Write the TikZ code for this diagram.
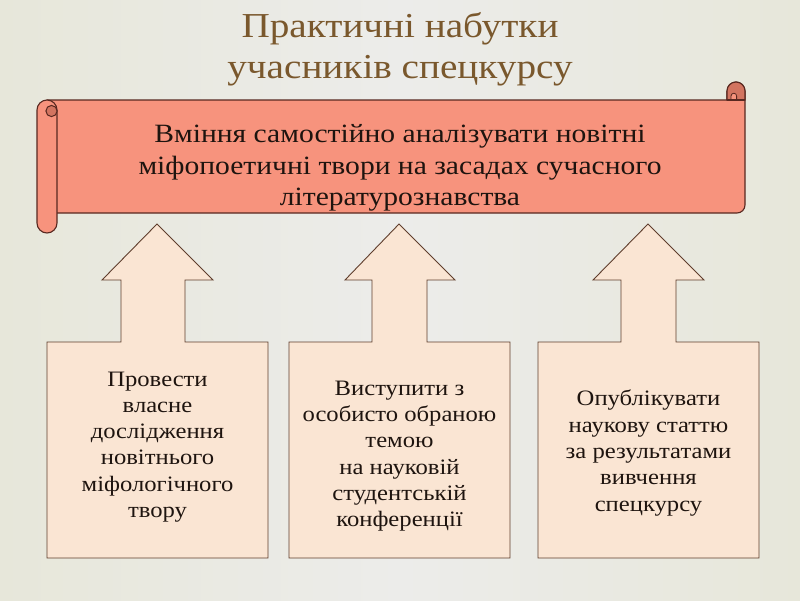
\documentclass[tikz,border=0pt]{standalone}
\usepackage{fontspec}
\setmainfont[FakeStretch=1.12]{Liberation Serif}
\begin{document}
\begin{tikzpicture}[x=1pt,y=-1pt,
  scrollfill/.style={fill=scrollc, draw=scrolledge, line width=1.1pt, line join=round},
  arrowbox/.style={fill=boxc, draw=boxedge, line width=0.9pt, line join=miter},
  boxtext/.style={align=center, font=\fontsize{22}{26.3}\selectfont, text=textc, inner sep=0pt},
  titletext/.style={text=titlec, font=\fontsize{35}{38}\selectfont, inner sep=0pt, anchor=base},
]
\definecolor{bgmid}{RGB}{236,236,234}
\definecolor{bgside}{RGB}{231,231,218}
\definecolor{titlec}{RGB}{122,88,45}
\definecolor{scrollc}{RGB}{247,147,125}
\definecolor{scrolldark}{RGB}{210,116,96}
\definecolor{scrolledge}{RGB}{88,40,32}
\definecolor{boxc}{RGB}{250,229,211}
\definecolor{boxedge}{RGB}{95,62,45}
\definecolor{textc}{RGB}{30,20,15}
\useasboundingbox (0,0) rectangle (800,600);
\shade[left color=bgside, right color=bgside, middle color=bgmid] (0,0) rectangle (800,600);

% title
\node[titletext] (title1) at (400,37) {Практичні набутки};
\node[titletext] (title2) at (400,78) {учасників спецкурсу};

% scroll banner body
\path[scrollfill] (47,100) -- (727,100) -- (727,91) arc[start angle=180, end angle=360, radius=9]
  -- (745,205) arc[start angle=0, end angle=90, radius=8] -- (47,213) -- cycle;
% right curl
\path[fill=scrolldark, draw=scrolledge, line width=1.1pt] (727,100) -- (727,91)
  arc[start angle=180, end angle=360, radius=9] -- (745,100) -- cycle;
\path[fill=scrollc, draw=scrolledge, line width=0.8pt] (731,100) -- (731,96)
  arc[start angle=180, end angle=360, radius=2.8] -- (736.6,100) -- cycle;
\draw[scrolledge, line width=1.1pt] (727,100) -- (745,100);
% left roll
\path[scrollfill] (37,110) arc[start angle=180, end angle=270, radius=10]
  arc[start angle=270, end angle=360, radius=10] -- (57,223)
  arc[start angle=0, end angle=180, radius=10] -- cycle;
\path[fill=scrolldark, draw=scrolledge, line width=1pt] (51.5,111) circle[radius=5.6];

\node[align=center, text=textc, font=\fontsize{26.4}{31.5}\selectfont, inner sep=0pt] (banner) at (400,168)
  {Вміння самостійно аналізувати новітні\\міфопоетичні твори на засадах сучасного\\літературознавства};

% up-arrow callouts
\path[arrowbox] (47,342) -- (121,342) -- (121,280) -- (102,280) -- (157,224) -- (213,280)
  -- (185,280) -- (185,342) -- (268,342) -- (268,558) -- (47,558) -- cycle;
\path[arrowbox] (289,342) -- (372,342) -- (372,280) -- (345,280) -- (399,224) -- (455,280)
  -- (427,280) -- (427,342) -- (510,342) -- (510,558) -- (289,558) -- cycle;
\path[arrowbox] (538,342) -- (621,342) -- (621,280) -- (593,280) -- (648,224) -- (704,280)
  -- (676,280) -- (676,342) -- (759,342) -- (759,558) -- (538,558) -- cycle;

\node[boxtext] (t1) at (157.5,447)
  {Провести\\власне\\дослідження\\новітнього\\міфологічного\\твору};
\node[boxtext] (t2) at (399.5,456)
  {Виступити з\\особисто обраною\\темою\\ на науковій\\студентській\\конференції};
\node[boxtext] (t3) at (648.5,453)
  {Опублікувати\\наукову статтю\\за результатами\\вивчення\\спецкурсу};
\end{tikzpicture}
\end{document}
